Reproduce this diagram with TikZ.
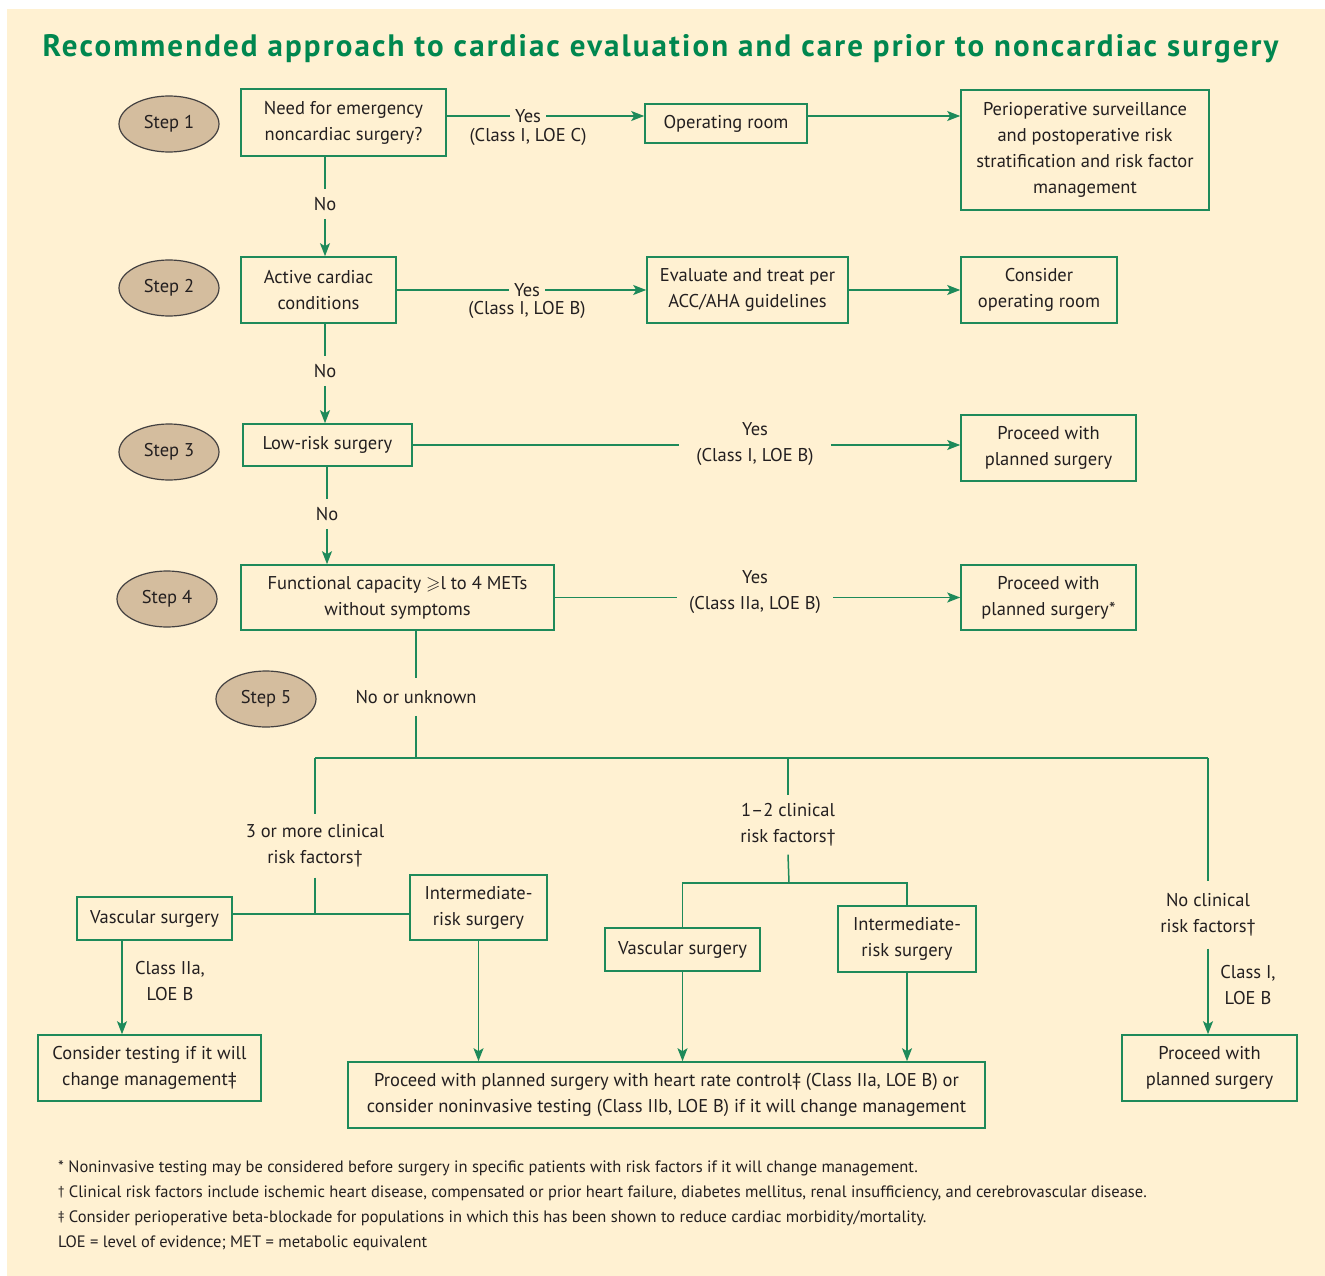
\documentclass[tikz,border=0pt]{standalone}
\usepackage{fontspec}
\usepackage{amssymb}
\usetikzlibrary{shapes.geometric,arrows.meta}
\setmainfont{PT Sans}
\newfontfamily\titlefont[LetterSpace=6.8]{PT Sans}
\definecolor{cream}{HTML}{FFF1D2}
\definecolor{grn}{HTML}{1E8A5A}
\definecolor{ttl}{HTML}{00874F}
\definecolor{tanfill}{HTML}{D4BD9E}
\definecolor{ink}{HTML}{231F20}
\newcommand{\fsmain}{\fontsize{18.5}{26}\selectfont}
\newcommand{\fsfoot}{\fontsize{16.5}{25}\selectfont}
\tikzset{
  box/.style={draw=grn, line width=1.6pt, inner sep=0pt, align=center, text=ink, font=\fsmain},
  stepnode/.style={ellipse, draw=ink!85, fill=tanfill, line width=1.2pt, minimum width=100pt, minimum height=56pt, inner sep=0pt, text=ink, font=\fsmain},
  lbl/.style={align=center, text=ink, font=\fsmain, inner sep=2pt},
  conn/.style={draw=grn, line width=1.5pt},
  arr/.style={conn, -{Stealth[length=13pt,width=10pt,inset=3pt]}},
  foot/.style={anchor=west, text=ink, font=\fsfoot, inner sep=0pt}
}
\begin{document}
\begin{tikzpicture}[x=1pt,y=-1pt]
\useasboundingbox (0,0) rectangle (1325,1276);
\fill[white] (0,0) rectangle (1325,1276);
\fill[cream] (7,9) rectangle (1325,1276);

\node[font=\titlefont\bfseries\fontsize{31}{36}\selectfont, text=ttl, inner sep=0pt] (T) at (660.5,49) {Recommended approach to cardiac evaluation and care prior to noncardiac surgery};

% steps
\node[stepnode] (S1) at (169,124) {Step 1};
\node[stepnode] (S2) at (169,288) {Step 2};
\node[stepnode] (S3) at (169,452) {Step 3};
\node[stepnode] (S4) at (167,599) {Step 4};
\node[stepnode] (S5) at (266,699) {Step 5};

% step 1
\node[box, minimum width=205pt, minimum height=67pt] (A) at (343.5,122.5) {Need for emergency\\noncardiac surgery?};
\node[box, minimum width=162pt, minimum height=39pt] (B) at (726,123.5) {Operating room};
\node[box, minimum width=248pt, minimum height=120pt] (C) at (1085,150) {Perioperative surveillance\\and postoperative risk\\stratification and risk factor\\management};
\node[lbl, inner xsep=5pt] (yA) at (528,116) {Yes};
\node[lbl] (cA) at (528,137) {(Class I, LOE C)};
\draw[conn] (A.east |- yA) -- (yA.west);
\draw[arr] (yA.east) -- (B.west |- yA);
\draw[arr] (B.east |- yA) -- (C.west |- yA);

\node[lbl, inner ysep=8pt] (n1) at (325,204) {No};
\draw[conn] (A.south -| n1) -- (n1.north);

% step 2
\node[box, minimum width=155pt, minimum height=66pt] (D) at (318.5,290) {Active cardiac\\conditions};
\draw[arr] (n1.south) -- (D.north -| n1);
\node[lbl, inner xsep=5pt] (yD) at (527,290) {Yes};
\node[lbl] (cD) at (527,310) {(Class I, LOE B)};
\node[box, minimum width=201pt, minimum height=66pt] (E) at (747.5,290) {Evaluate and treat per\\ACC/AHA guidelines};
\node[box, minimum width=156pt, minimum height=66pt] (F) at (1039,290) {Consider\\operating room};
\draw[conn] (D.east |- yD) -- (yD.west);
\draw[arr] (yD.east) -- (E.west |- yD);
\draw[arr] (E.east) -- (F.west);

\node[lbl, inner ysep=8pt] (n2) at (325,371) {No};
\draw[conn] (D.south -| n2) -- (n2.north);

% step 3
\node[box, minimum width=169pt, minimum height=42pt] (G) at (327.5,445) {Low-risk surgery};
\draw[arr] (n2.south) -- (G.north -| n2);
\node[lbl, inner xsep=17pt] (lG) at (755,444) {Yes\\(Class I, LOE B)};
\node[box, minimum width=175pt, minimum height=66pt] (H) at (1048.5,448) {Proceed with\\planned surgery};
\draw[conn] (G.east) -- (G.east -| lG.west);
\draw[arr] (G.east -| lG.east) -- (G.east -| H.west);

\node[lbl, inner ysep=8pt] (n3) at (327,514) {No};
\draw[conn] (G.south -| n3) -- (n3.north);

% step 4
\node[box, minimum width=313pt, minimum height=65pt] (I) at (397.5,597.5) {Functional capacity $\geqslant$l to 4 METs\\without symptoms};
\draw[arr] (n3.south) -- (I.north -| n3);
\node[lbl, inner xsep=12pt] (lI) at (755,592) {Yes\\(Class IIa, LOE B)};
\node[box, minimum width=175pt, minimum height=65pt] (J) at (1048.5,597.5) {Proceed with\\planned surgery*};
\draw[conn] (I.east) -- (I.east -| lI.west);
\draw[arr] (I.east -| lI.east) -- (I.east -| J.west);

% step 5
\node[lbl, inner ysep=12pt] (nu) at (416,697) {No or unknown};
\draw[conn] (I.south -| nu) -- (nu.north);
\coordinate (j0) at (416,758);
\coordinate (jL) at (315,758);
\coordinate (jM) at (788,758);
\coordinate (jR) at (1208,758);
\draw[conn] (nu.south) -- (j0);
\draw[conn] (jL) -- (jR);

\node[lbl, inner ysep=10pt] (r3) at (315,846) {3 or more clinical\\risk factors†};
\node[lbl, inner ysep=8pt] (r12) at (788,825) {1–2 clinical\\risk factors†};
\node[lbl, inner ysep=12pt] (r0) at (1208,915) {No clinical\\risk factors†};
\draw[conn] (jL) -- (r3.north);
\draw[conn] (jM) -- (r12.north);
\draw[conn] (jR) -- (r0.north);

% 3 or more
\node[box, minimum width=155pt, minimum height=43pt] (K) at (154.5,918.5) {Vascular surgery};
\node[box, minimum width=137pt, minimum height=65pt] (L) at (478.5,907.5) {Intermediate-\\risk surgery};
\coordinate (j3) at (315,914);
\draw[conn] (r3.south) -- (j3);
\draw[conn] (K.east |- j3) -- (L.west |- j3);
\node[box, minimum width=223pt, minimum height=66pt] (M) at (149.5,1068) {Consider testing if it will\\change management‡};
\node[lbl] (cK) at (170,981) {Class IIa,\\LOE B};
\coordinate (kx) at (122,1000);
\draw[arr] (K.south -| kx) -- (M.north -| kx);
\node[box, minimum width=637pt, minimum height=66pt] (N) at (666.5,1095) {Proceed with planned surgery with heart rate control‡ (Class IIa, LOE B) or\\consider noninvasive testing (Class IIb, LOE B) if it will change management};
\draw[arr] (L.south) -- (L.south |- N.north);

% 1-2
\node[box, minimum width=155pt, minimum height=43pt] (O) at (682.5,949.5) {Vascular surgery};
\node[box, minimum width=138pt, minimum height=66pt] (P) at (907,939) {Intermediate-\\risk surgery};
\coordinate (j12) at (789,883);
\draw[conn] (r12.south) -- (j12);
\draw[conn] (O.north) -- (O.north |- j12) -- (P.north |- j12) -- (P.north);
\draw[arr] (O.south) -- (O.south |- N.north);
\draw[arr] (P.south) -- (P.south |- N.north);

% none
\node[box, minimum width=175pt, minimum height=66pt] (Q) at (1209.5,1068) {Proceed with\\planned surgery};
\node[lbl] (cQ) at (1248,985) {Class I,\\LOE B};
\draw[arr] (r0.south) -- (r0.south |- Q.north);

% footnotes
\node[foot] (f1) at (58,1168) {* Noninvasive testing may be considered before surgery in specific patients with risk factors if it will change management.};
\node[foot] (f2) at (58,1193) {\raisebox{2pt}{\fontsize{13}{13}\selectfont †} Clinical risk factors include ischemic heart disease, compensated or prior heart failure, diabetes mellitus, renal insufficiency, and cerebrovascular disease.};
\node[foot] (f3) at (58,1218) {\raisebox{2pt}{\fontsize{13}{13}\selectfont ‡} Consider perioperative beta-blockade for populations in which this has been shown to reduce cardiac morbidity/mortality.};
\node[foot] (f4) at (58,1243) {LOE = level of evidence; MET = metabolic equivalent};
\end{tikzpicture}
\end{document}
